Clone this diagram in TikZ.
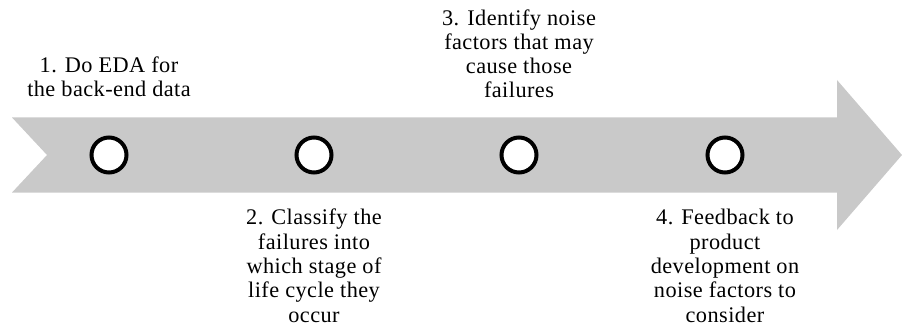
\documentclass[tikz,border=0pt]{standalone}
\usepackage{fontspec}
\setmainfont{Liberation Serif}[LetterSpace=2]
\definecolor{bandgray}{HTML}{C9C9C9}
\tikzset{
  x=1pt, y=-1pt,
  milestone/.style={circle, draw=black, line width=4pt, fill=white,
    minimum size=35pt, inner sep=0pt},
  steptext/.style={align=center, font=\fontsize{22.3}{24.3}\selectfont,
    inner sep=0pt, anchor=base}
}
\begin{document}
\begin{tikzpicture}
\useasboundingbox (0,0) rectangle (902,326);
% timeline arrow with notched tail
\fill[bandgray] (12,117.5) -- (837,117.5) -- (837,80) -- (902,155)
  -- (837,230) -- (837,192.5) -- (12,192.5) -- (47,155) -- cycle;
% milestones
\node[milestone] (m1) at (109,155) {};
\node[milestone] (m2) at (314,155) {};
\node[milestone] (m3) at (519,155) {};
\node[milestone] (m4) at (725,155) {};
% step descriptions (anchored at the baseline of the last line)
\node[steptext] (t1) at (109,97) {1. Do EDA for\\the back-end data};
\node[steptext] (t2) at (314,322) {2. Classify the\\failures into\\which stage of\\life cycle they\\occur};
\node[steptext] (t3) at (519,98) {3. Identify noise\\factors that may\\cause those\\failures};
\node[steptext] (t4) at (725,322) {4. Feedback to\\product\\development on\\noise factors to\\consider};
\end{tikzpicture}
\end{document}
